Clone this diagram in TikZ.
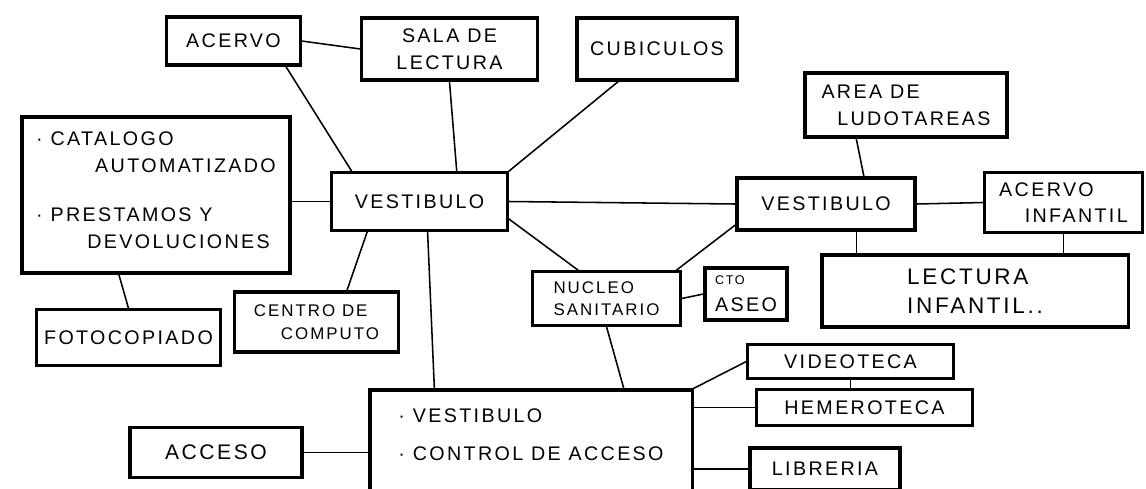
\documentclass[tikz,border=0pt]{standalone}
\usepackage{fontspec}
\setmainfont{Liberation Sans}[LetterSpace=12]

\begin{document}
\begin{tikzpicture}[
    x=0.025cm, y=-0.025cm,
    box/.style={rectangle, draw, line width=2.2pt, inner sep=2pt, font=\fontsize{14}{19}\selectfont},
    smalltext/.style={font=\fontsize{12}{16}\selectfont},
    bigtext/.style={font=\fontsize{16}{21}\selectfont},
    link/.style={line width=1.1pt}
]
    \useasboundingbox (0,0) rectangle (1146,488);
    \clip (0,0) rectangle (1146,488);

    % upper row
    \node[box, minimum width=3.33cm, minimum height=1.2cm] (acervo) at (233.5,41) {ACERVO};
    \node[box, minimum width=4.38cm, minimum height=1.55cm, align=center] (sala) at (449.5,49) {SALA DE\\ LECTURA};
    \node[box, minimum width=4cm, minimum height=1.55cm] (cubiculos) at (657,49) {CUBICULOS};
    \node[box, minimum width=5.05cm, minimum height=1.6cm, align=left] (area) at (906,105) {AREA DE\\\hspace{0.8em}LUDOTAREAS};

    % middle
    \node[box, minimum width=6.7cm, minimum height=3.9cm, align=left] (catalogo) at (156,195)
        {·\ CATALOGO\\\hspace{3em}AUTOMATIZADO\\[16pt]·\ PRESTAMOS Y\\\hspace{2.6em}DEVOLUCIONES\\[-12pt]\mbox{}};
    \node[box, minimum width=4.38cm, minimum height=1.43cm] (vestL) at (419.5,201.5) {VESTIBULO};
    \node[box, minimum width=4.45cm, minimum height=1.3cm] (vestR) at (826,204) {VESTIBULO};
    \node[box, minimum width=3.93cm, minimum height=1.48cm, align=left] (acervoInf) at (1063.5,202.5) {ACERVO\\\hspace{1.3em}INFANTIL};
    \node[box, bigtext, minimum width=7.65cm, minimum height=1.8cm, align=left] (lecturaInf) at (975,291) {LECTURA\\INFANTIL..};
    \node[box, smalltext, minimum width=3.68cm, minimum height=1.33cm, align=left] (nucleo) at (606.5,298.5) {NUCLEO\\SANITARIO};
    \node[box, minimum width=2.05cm, minimum height=1.3cm, align=left] (aseo) at (746,294) {{\fontsize{9}{12}\selectfont CTO}\\ASEO};
    \node[box, smalltext, minimum width=4.08cm, minimum height=1.5cm, align=left] (computo) at (316.5,322) {CENTRO DE\\\hspace{1.6em}COMPUTO};
    \node[box, minimum width=4.58cm, minimum height=1.38cm] (foto) at (128.5,337.5) {FOTOCOPIADO};

    % lower row
    \node[box, minimum width=8.05cm, minimum height=2.6cm, align=left] (main) at (531,442)
        {·\ VESTIBULO\\[8pt]·\ CONTROL DE ACCESO\\[-8pt]\mbox{}};
    \node[box, font=\fontsize{15}{19}\selectfont, minimum width=4.3cm, minimum height=1.23cm] (acceso) at (216,452.5) {ACCESO};
    \node[box, minimum width=5.13cm, minimum height=0.83cm] (video) at (850.5,361.5) {VIDEOTECA};
    \node[box, minimum width=5.38cm, minimum height=0.88cm] (hemero) at (864.5,407.5) {HEMEROTECA};
    \node[box, minimum width=3.75cm, minimum height=1.05cm] (libreria) at (825,469) {LIBRERIA};

    \draw[link] (acervo.east) -- (sala.west);
    \draw[link] (acervo.-26) -- (vestL.156);
    \draw[link] (sala.south) -- (vestL.39);
    \draw[link] (cubiculos.220) -- (vestL.north east);
    \draw[link] (catalogo.east |- vestL.west) -- (vestL.west);
    \draw[link] (vestL.east) -- (vestR.west);
    \draw[link] (vestL.-11) -- (nucleo.135);
    \draw[link] (vestR.193) -- (nucleo.22);
    \draw[link] (nucleo.east) -- (aseo.west);
    \draw[link] (nucleo.south) -- (main.30);
    \draw[link] (vestL.210) -- (computo.46);
    \draw[link] (vestL.-75) -- (main.151);
    \draw[link] (catalogo.245) -- (foto.north);
    \draw[link] (acceso.east) -- (acceso.east -| main.west);
    \draw[link] (area.214) -- (vestR.36);
    \draw[link] (vestR.east) -- (acervoInf.west);
    \draw[link] (vestR.-42) -- (vestR.-42 |- lecturaInf.north);
    \draw[link] (acervoInf.south) -- (acervoInf.south |- lecturaInf.north);
    \draw[link] (main.north east) -- (video.west);
    \draw[link] (hemero.west -| main.east) -- (hemero.west);
    \draw[link] (libreria.west -| main.east) -- (libreria.west);
    \draw[link] (video.south) -- (video.south |- hemero.north);
\end{tikzpicture}
\end{document}
